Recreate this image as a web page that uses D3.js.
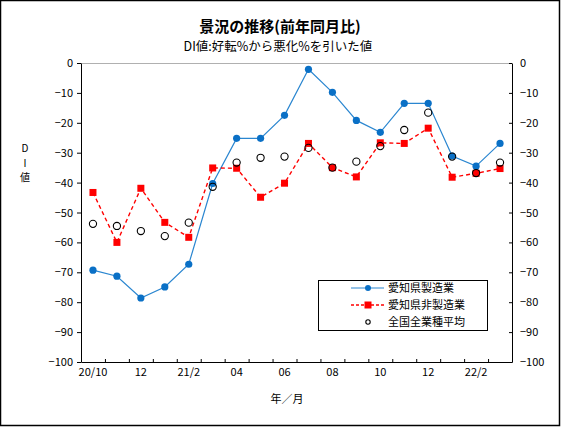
<!DOCTYPE html>
<html><head><meta charset="utf-8">
<script src="https://cdn.jsdelivr.net/npm/d3@7"></script>
<style>
body{margin:0;background:#fff;}
svg text{font-family:"Noto Sans CJK JP","Noto Sans",sans-serif;fill:#000;}
</style></head>
<body><svg id="c" width="562" height="427"></svg>
<script>
const months = ["20/10","20/11","20/12","21/1","21/2","21/3","21/4","21/5","21/6","21/7","21/8","21/9","21/10","21/11","21/12","22/1","22/2","22/3"];
const tickLabels = ["20/10","","12","","21/2","","04","","06","","08","","10","","12","","22/2",""];
const aichiMfg = [-69.3,-71.3,-78.6,-74.9,-67.3,-40.3,-25.2,-25.2,-17.5,-2.1,-9.8,-19.2,-23.2,-13.5,-13.5,-31.1,-34.5,-26.9];
const aichiNonMfg = [-43.3,-60.0,-41.9,-53.3,-58.3,-35.1,-35.2,-44.9,-40.2,-26.9,-35.0,-38.1,-26.7,-26.9,-21.8,-38.2,-36.9,-35.3];
const nationalAvg = [-53.8,-54.5,-56.2,-57.9,-53.4,-41.4,-33.3,-31.7,-31.3,-28.4,-35.0,-33.0,-27.8,-22.4,-16.6,-31.3,-36.8,-33.3];
const yTicks = [0,-10,-20,-30,-40,-50,-60,-70,-80,-90,-100];
const seriesNames = ["愛知県製造業","愛知県非製造業","全国全業種平均"];

const svg = d3.select("#c");
svg.append("rect").attr("x",0.5).attr("y",0.5).attr("width",559).attr("height",425)
  .attr("fill","#fff").attr("stroke","#000").attr("stroke-width",1.5);

const L=81, R=512, T=63, B=362;
const x = d3.scaleBand().domain(months).range([L,R]);
const y = d3.scaleLinear().domain([-100,0]).range([B,T]);
const cx = d => x(d)+x.bandwidth()/2;

// title
svg.append("text").attr("x",280).attr("y",32).attr("text-anchor","middle")
  .attr("font-size",15).attr("font-weight","bold").text("景況の推移(前年同月比)");
svg.append("text").attr("x",278).attr("y",51).attr("text-anchor","middle")
  .attr("font-size",12.5).text("DI値:好転%から悪化%を引いた値");

// top gray border line
svg.append("line").attr("x1",L).attr("x2",R).attr("y1",T+0.5).attr("y2",T+0.5)
  .attr("stroke","#b0b0b0").attr("stroke-width",1);

// left axis
const gL = svg.append("g").attr("transform",`translate(${L},0)`)
  .call(d3.axisLeft(y).tickValues(yTicks).tickSize(4).tickSizeOuter(0).tickPadding(4).tickFormat(d3.format("d")));
gL.selectAll("text").attr("font-size",11).text(d=>d===0?"0":"−"+Math.abs(d));
gL.select(".domain").attr("stroke","#000");
// right axis (ticks inward)
const gR = svg.append("g").attr("transform",`translate(${R},0)`)
  .call(d3.axisRight(y).tickValues(yTicks).tickSize(-3).tickSizeOuter(0).tickPadding(8).tickFormat(d3.format("d")));
gR.selectAll("text").attr("font-size",11).text(d=>d===0?"0":"−"+Math.abs(d));
// bottom axis
const gB = svg.append("g").attr("transform",`translate(0,${B})`)
  .call(d3.axisBottom(x).tickSize(0).tickPadding(6).tickFormat((d,i)=>tickLabels[i]));
gB.selectAll("text").attr("font-size",11);
gB.select(".domain").attr("stroke","#000");
svg.append("g").selectAll("line").data(months.slice(1)).join("line")
  .attr("x1",d=>x(d)+0.5).attr("x2",d=>x(d)+0.5).attr("y1",B).attr("y2",B-3).attr("stroke","#000");

// axis titles (stacked vertically)
[["D",152],["I",166.5],["値",181]].forEach(([t,yy])=>svg.append("text").attr("x",25).attr("y",yy)
  .attr("text-anchor","middle").attr("font-size",10).text(t));
svg.append("text").attr("x",287).attr("y",403).attr("text-anchor","middle").attr("font-size",11).text("年／月");

// series
const line = d3.line().x((d,i)=>cx(months[i])).y(d=>y(d));
svg.append("path").datum(aichiMfg).attr("d",line).attr("fill","none").attr("stroke","#2a86d0").attr("stroke-width",1.2);
svg.append("g").selectAll("circle").data(aichiMfg).join("circle")
  .attr("cx",(d,i)=>cx(months[i])).attr("cy",d=>y(d)).attr("r",3.6).attr("fill","#0a70c6");
svg.append("path").datum(aichiNonMfg).attr("d",line).attr("fill","none").attr("stroke","#ff0000").attr("stroke-width",1.4).attr("stroke-dasharray","4,3");
svg.append("g").selectAll("rect").data(aichiNonMfg).join("rect")
  .attr("x",(d,i)=>cx(months[i])-3.5).attr("y",d=>y(d)-3.5).attr("width",7).attr("height",7).attr("fill","#ff0000");
svg.append("g").selectAll("circle").data(nationalAvg).join("circle")
  .attr("cx",(d,i)=>cx(months[i])).attr("cy",d=>y(d)).attr("r",3.6).attr("fill","none").attr("stroke","#000").attr("stroke-width",1.1);

// legend
const lg = svg.append("g");
lg.append("rect").attr("x",318.5).attr("y",280.5).attr("width",169).attr("height",50).attr("fill","#fff").attr("stroke","#000");
const rows=[288,305,322];
lg.append("line").attr("x1",351).attr("x2",384).attr("y1",rows[0]).attr("y2",rows[0]).attr("stroke","#2a86d0").attr("stroke-width",1.2);
lg.append("circle").attr("cx",368).attr("cy",rows[0]).attr("r",3).attr("fill","#0a70c6");
lg.append("line").attr("x1",351).attr("x2",384).attr("y1",rows[1]).attr("y2",rows[1]).attr("stroke","#ff0000").attr("stroke-width",1.4).attr("stroke-dasharray","3,2");
lg.append("rect").attr("x",364.5).attr("y",rows[1]-3.5).attr("width",7).attr("height",7).attr("fill","#ff0000");
lg.append("circle").attr("cx",368).attr("cy",rows[2]).attr("r",2.2).attr("fill","none").attr("stroke","#000").attr("stroke-width",1.1);
seriesNames.forEach((n,i)=>lg.append("text").attr("x",388).attr("y",rows[i]+4).attr("font-size",11).text(n));
</script></body></html>
